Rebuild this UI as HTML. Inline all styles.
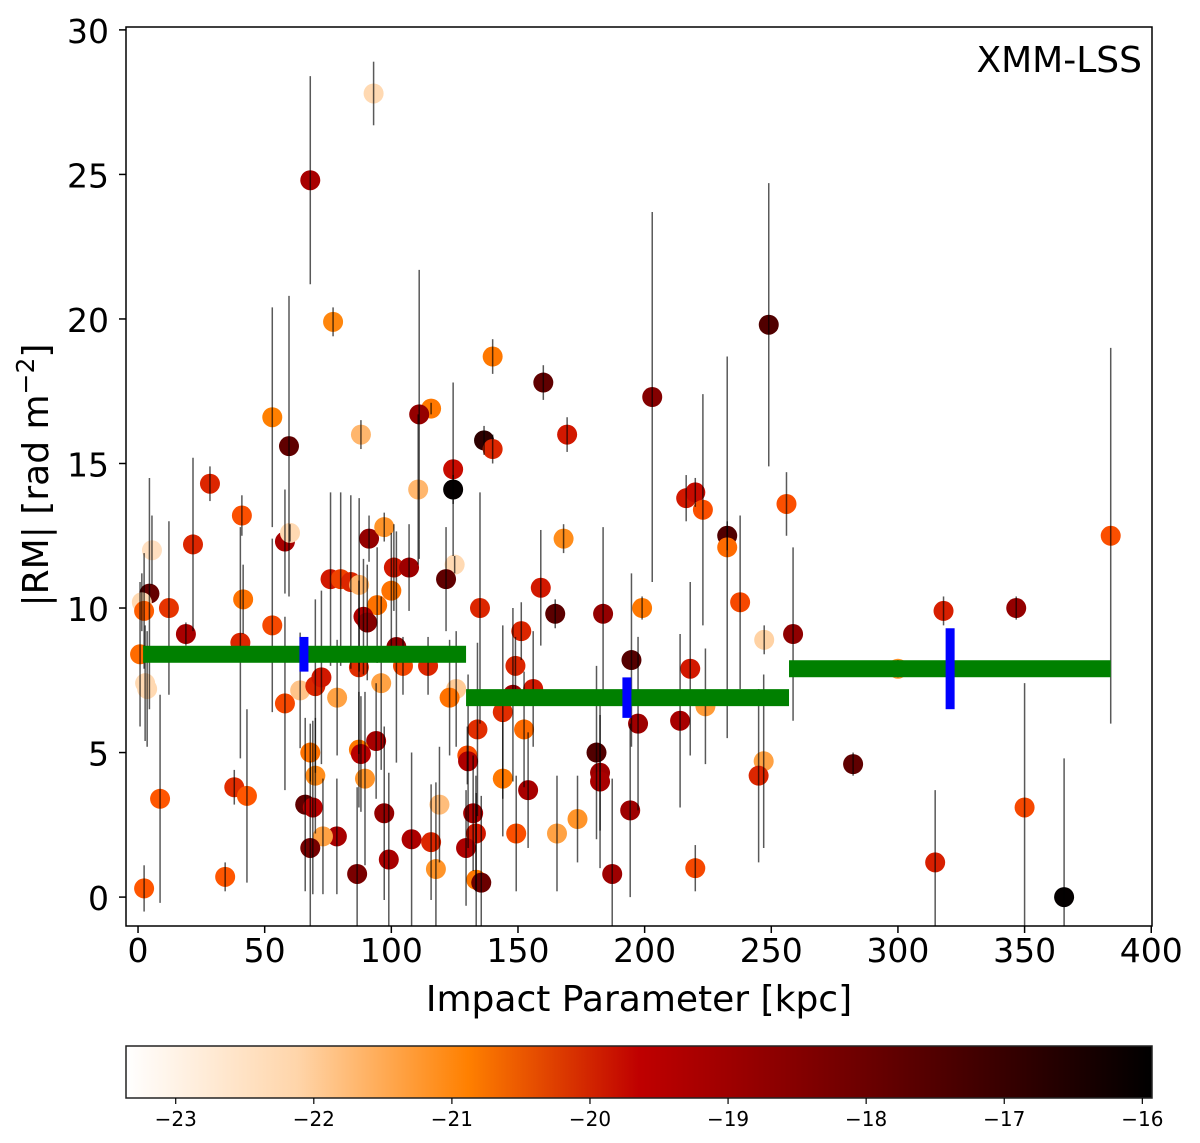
<!DOCTYPE html>
<html><head><meta charset="utf-8"><style>
html,body{margin:0;padding:0;background:#fff;}
svg{display:block;font-family:"DejaVu Sans","Liberation Sans",sans-serif;}
</style></head><body>
<svg id="chart" width="1200" height="1143" viewBox="0 0 1200 1143" xmlns="http://www.w3.org/2000/svg">
<defs>
<linearGradient id="cmap" x1="0" x2="1" y1="0" y2="0">
<stop offset="0" stop-color="#ffffff"/>
<stop offset="0.1667" stop-color="#ffd5aa"/>
<stop offset="0.3333" stop-color="#ff8000"/>
<stop offset="0.5" stop-color="#bf0000"/>
<stop offset="0.6667" stop-color="#800000"/>
<stop offset="1" stop-color="#000000"/>
</linearGradient>
<clipPath id="axclip"><rect x="126" y="27" width="1026" height="899"/></clipPath>
</defs>
<g id="plot"></g>
</svg>
<script>
const xs = [93,68,77,249,140,160,203,115.7,111,53,88,169.4,59.6,136.6,140,124.4,124.4,28.4,110.6,216.4,220,223,256,41,384,232.6,232.6,21.7,58,91.2,168,97.2,5.5,60,125,101,107,121.6,76,80,84,87.3,100,159,94.4,237.7,41.5,4.5,1.5,2.4,12.2,135,164.7,183.6,199,318,346.7,18.9,151.3,258.6,247.2,40.4,102,89,90.5,53,0.8,194.8,218,149,114.5,104.6,87.2,2.8,3.6,64,70,72.4,78.6,96,58,125.6,123,156,148,144,152.4,197.4,214,224,134,94,68,130,87.2,88,130.3,181,182.4,182.4,282.3,247,245,70,89.6,144,38,43,8.7,154,350,194.3,66,69,119,97.2,132.3,173.5,78.5,73,108,115.7,133.4,149.3,165.4,129.5,68,99,117.6,220,314.7,86.5,187.2,133.5,135.5,2.4,34.4,365.6,300];
const ys = [27.8,24.8,19.9,19.8,18.7,17.8,17.3,16.9,16.7,16.6,16.0,16.0,15.6,15.8,15.5,14.1,14.8,14.3,14.1,13.8,14.0,13.4,13.6,13.2,12.5,12.5,12.1,12.2,12.3,12.4,12.4,12.8,12.0,12.6,11.5,11.4,11.4,11.0,11.0,11.0,10.9,10.8,10.6,10.7,10.1,10.2,10.3,10.5,10.2,9.9,10.0,10.0,9.8,9.8,10.0,9.9,10.0,9.1,9.2,9.1,8.9,8.8,8.65,9.7,9.5,9.4,8.4,8.2,7.9,8.0,8.0,8.0,7.95,7.4,7.2,7.15,7.3,7.6,6.9,7.4,6.7,7.2,6.9,7.2,7.0,6.4,5.8,6.0,6.1,6.6,5.8,5.4,5.0,4.9,5.1,4.95,4.7,5.0,4.3,4.0,4.6,4.7,4.2,4.2,4.1,4.1,3.8,3.5,3.4,3.7,3.1,3.0,3.2,3.1,3.2,2.9,2.9,2.7,2.1,2.1,2.0,1.9,2.2,2.2,2.2,1.7,1.7,1.3,0.97,1.0,1.2,0.8,0.8,0.6,0.5,0.3,0.7,0.0,7.9];
const colorVals = [-22.8,-19.2,-21.6,-17.5,-21.4,-17.8,-18.5,-21.4,-18.8,-21.5,-22.3,-20.0,-17.8,-16.8,-20.2,-16.0,-19.8,-20.2,-22.3,-20.0,-19.8,-20.8,-20.8,-20.8,-20.8,-17.5,-21.2,-20.2,-19.2,-18.8,-21.7,-21.8,-22.9,-22.8,-22.8,-20,-19,-17.8,-20,-20.6,-20.2,-22.3,-21.3,-20,-21.3,-20.7,-21.3,-17.9,-22.8,-21,-20.4,-20.2,-17.7,-18.8,-21.4,-20.1,-18.8,-19.2,-20.2,-18.7,-22.7,-20.2,-18.7,-19.3,-18.5,-20.7,-21.2,-17.6,-20,-20.2,-20.2,-20.7,-20.3,-22.8,-22.8,-22.5,-20.2,-20,-22.0,-22.0,-20.7,-22.6,-21.3,-20,-19,-20.3,-21.2,-19,-19.2,-21.9,-20.3,-19.2,-21.3,-20.8,-21.4,-19.5,-19.3,-17.5,-19,-19.2,-17.8,-22.0,-20.2,-21.7,-21.8,-21.4,-20.3,-20.9,-20.9,-19.2,-20.7,-19,-17.8,-19.5,-22.4,-18.8,-19.2,-21.8,-19.2,-22,-19.3,-20.2,-20,-20.8,-22,-19.3,-18.2,-19.2,-21.8,-20.7,-20.1,-18.3,-19,-21.4,-18,-20.9,-20.9,-16.0,-21.8];
const errs = [1.1,3.6,0.5,4.9,0.6,0.6,6.4,0.2,5,3.8,0.5,0.6,5.2,0.5,0.5,0.5,3,0.6,2.6,0.8,0.5,4,1.1,0.7,6.5,0.5,6.6,3,1.8,0.8,0.5,0.5,1.2,0.3,0.3,1.5,1.5,1.8,3,3,3,3,2,2,2,3,1.2,4,1,2,3,4,0.5,3,0.4,0.5,0.4,0.4,1,3,0.5,4,4,2,2,3,2.5,3,3,1,1,1,3,2,2,2,3,3,2,3,3,2,2,2,3,3,2,3,3,2,3,2,1,1,2,2,3,3,2,3,0.4,3,3,2,3,2,0.6,3,3.6,2,4.3,3,3,3,2,3,2,1.5,2,2,3,2,2,2,2,2,3,3,3,0.8,2.5,3,3.3,3,3,0.8,0.5,4.8,0.3];
const binLo = [2,129.5,257];
const binHi = [129.5,257,384];
const binMed = [8.4,6.9,7.9];
const binCenter = [65.5,193,320.6];
const binErrLo = [7.8,6.2,6.5];
const binErrHi = [9.0,7.6,9.3];
const xTicks = [0,50,100,150,200,250,300,350,400];
const yTicks = [0,5,10,15,20,25,30];
const cTicks = [-23,-22,-21,-20,-19,-18,-17,-16];

const L=126,R=1152,T=27,B=926;
const X0=-4.75,X1=400.3,Y0=-1.0,Y1=30.1;
const sx=v=>L+(v-X0)/(X1-X0)*(R-L);
const sy=v=>B-(v-Y0)/(Y1-Y0)*(B-T);
const CL=126,CR=1152,CT=1046,CB=1098,C0=-23.36,C1=-15.93;
const sc=v=>CL+(v-C0)/(C1-C0)*(CR-CL);
function cmap(v){
  let t=(v-C0)/(C1-C0); t=Math.max(0,Math.min(1,t)); const x=1-t;
  const r=Math.min(1,1.5*x), g=Math.max(0,Math.min(1,2*x-1)), b=Math.max(0,Math.min(1,4*x-3));
  return `rgb(${Math.round(r*255)},${Math.round(g*255)},${Math.round(b*255)})`;
}
const NS="http://www.w3.org/2000/svg";
const g=document.getElementById('plot');
function mk(tag,attrs,parent){const e=document.createElementNS(NS,tag);for(const k in attrs)e.setAttribute(k,attrs[k]);(parent||g).appendChild(e);return e;}

const pg=mk('g',{'clip-path':'url(#axclip)'});


for(let i=0;i<xs.length;i++){
  const c=mk('circle',{cx:sx(xs[i]),cy:sy(ys[i]),r:10,fill:cmap(colorVals[i])},pg);
  
  
}
const eg=mk('g',{'clip-path':'url(#axclip)'});


for(let i=0;i<xs.length;i++){
  const l=mk('line',{x1:sx(xs[i]),x2:sx(xs[i]),y1:sy(ys[i]-errs[i]),y2:sy(ys[i]+errs[i]),stroke:'#000','stroke-opacity':0.65,'stroke-width':1.5},eg);
  
  
}
for(let i=0;i<binLo.length;i++){
  const r=mk('rect',{x:sx(binLo[i]),y:sy(binMed[i])-8.5,width:sx(binHi[i])-sx(binLo[i]),height:17,fill:'#008000'});
  
  
  const b=mk('rect',{x:sx(binCenter[i])-4.5,y:sy(binErrHi[i]),width:9,height:sy(binErrLo[i])-sy(binErrHi[i]),fill:'#0000ff'});
  
  
}
const fr=mk('rect',{x:L,y:T,width:R-L,height:B-T,fill:'none',stroke:'#000','stroke-width':1.5});


for(const t of xTicks){
  mk('line',{x1:sx(t),x2:sx(t),y1:B,y2:B+7,stroke:'#000','stroke-width':1.5});
  const tx=mk('text',{x:sx(t),y:B+36,'font-size':33,'text-anchor':'middle'});tx.textContent=t;
  
  
}
for(const t of yTicks){
  mk('line',{x1:L-7,x2:L,y1:sy(t),y2:sy(t),stroke:'#000','stroke-width':1.5});
  const tx=mk('text',{x:L-17,y:sy(t)+13,'font-size':33,'text-anchor':'end'});tx.textContent=t;
  
  
}
const xl=mk('text',{x:639,y:1011,'font-size':36,'text-anchor':'middle'});xl.textContent='Impact Parameter [kpc]';


const yl=mk('text',{x:0,y:0,'font-size':36,'text-anchor':'middle',transform:'translate(48,475) rotate(-90)'});
yl.innerHTML='|RM| [rad m<tspan dy="-14" font-size="25">−2</tspan><tspan dy="14">]</tspan>';


const ti=mk('text',{x:1142,y:72,'font-size':36,'text-anchor':'end'});ti.textContent='XMM-LSS';


const cb=mk('rect',{x:CL,y:CT,width:CR-CL,height:CB-CT,fill:'url(#cmap)',stroke:'#222','stroke-width':1.5});


for(const t of cTicks){
  mk('line',{x1:sc(t),x2:sc(t),y1:CB,y2:CB+6,stroke:'#000','stroke-width':1.2});
  const tx=mk('text',{x:sc(t),y:CB+28,'font-size':20,'text-anchor':'middle'});tx.textContent='−'+Math.abs(t);
  
  
}
</script>
</body></html>
